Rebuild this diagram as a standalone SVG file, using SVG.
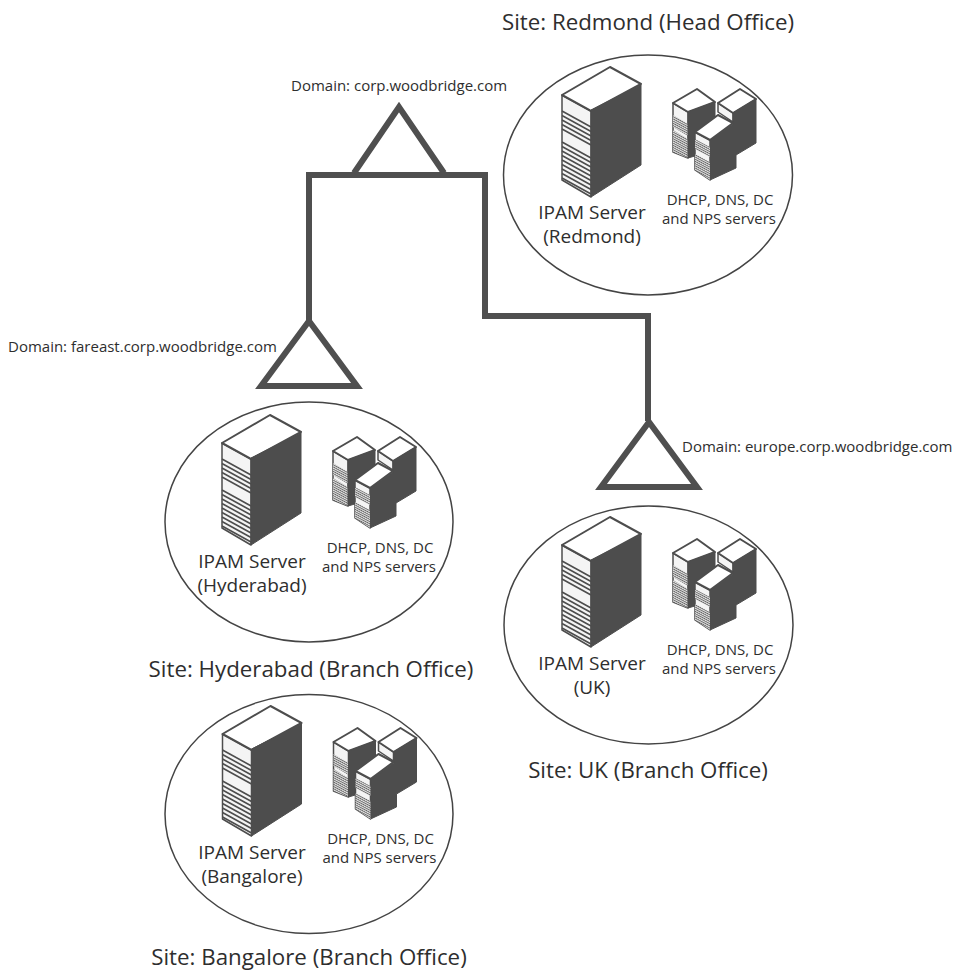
<svg xmlns="http://www.w3.org/2000/svg" xmlns:xlink="http://www.w3.org/1999/xlink" width="953" height="974" viewBox="0 0 953 974">
<style>
text{font-family:"Open Sans","Noto Sans","Liberation Sans",sans-serif;fill:#2e2e2e;text-anchor:middle}
.site{font-size:22.3px}.name{font-size:19px}.sm{font-size:15px}.dom{font-size:15px;text-anchor:start}
.oval{fill:#fff;stroke:#444;stroke-width:1.5}
.tri{fill:none;stroke:#4f4f4f;stroke-width:6;stroke-linejoin:miter}
.dark{fill:#4d4d4d;stroke:#4d4d4d;stroke-width:1;stroke-linejoin:round}
.top{fill:#fff;stroke:#4d4d4d;stroke-width:2;stroke-linejoin:round}
.front{fill:#f4f4f4;stroke:#4d4d4d;stroke-width:1.5;stroke-linejoin:round}
.ln{stroke:#4d4d4d;stroke-width:1.6;fill:none}
.h{fill:url(#hatch)}
</style>
<defs>
<pattern id="hatch" width="4" height="2.2" patternUnits="userSpaceOnUse" patternTransform="skewY(28)">
<rect width="4" height="2.2" fill="#e2e2e2"/>
<rect width="4" height="1" fill="#666"/>
</pattern>
<g id="cluster">
<path class="front" d="M62 95L91 111V197L62 180Z"/>
<path class="ln" d="M62 111L91 127M62 115.500L91 131.500M62 120L91 136M62 124.500L91 140.500M62 129L91 145M62 142L91 158M62 146.500L91 162.500M62 151L91 167M62 155.500L91 171.500M62 160L91 176M62 164.500L91 180.500M62 169L91 185M62 173.500L91 189.500M62 178L91 194"/>
<path class="top" d="M62 95L110 67L141 84L91 111Z"/>
<path class="dark" d="M91 110L141 85V165L91 197Z"/>
<path class="front" d="M173 103L188 112V158L173 152Z"/>
<path class="h" d="M173 115L188 124V136L173 127ZM173 130L188 139V158L173 152Z"/>
<path class="top" d="M173 103L197 89L215 102L188 112Z"/>
<path class="dark" d="M188 112L215 102V150L188 158Z"/>
<path class="front" d="M218 103L233 113V122L218 112Z"/>
<path class="top" d="M218 103L240 89L256 99L233 113Z"/>
<path class="dark" d="M233 113L256 99V143L236 155V168L210 180V140L233 124Z"/>
<path class="front" d="M195 132L210 140V180L195 170Z"/>
<path class="h" d="M195 139L210 147V157L195 149ZM195 154L210 162V180L195 170Z"/>
<path class="top" d="M195 132L218 115L233 123L210 140Z"/>
<text class="sm" x="220" y="205">DHCP, DNS, DC</text>
<text class="sm" x="219" y="224">and NPS servers</text>
</g>
</defs>
<g id="connectors">
<path fill="none" stroke="#4f4f4f" stroke-width="6" d="M309 320V175H485V316H648V421"/>
</g>
<g id="domain-corp">
<path class="tri" d="M354 173L399 107L444 173"/>
<text class="dom" x="291" y="91">Domain: corp.woodbridge.com</text>
</g>
<g id="domain-fareast">
<path class="tri" d="M261 386L309 321L357 386Z"/>
<text class="dom" x="8" y="352">Domain: fareast.corp.woodbridge.com</text>
</g>
<g id="domain-europe">
<path class="tri" d="M601 487L649 422L697 487Z"/>
<text class="dom" x="682" y="452">Domain: europe.corp.woodbridge.com</text>
</g>
<g id="site-redmond">
<text class="site" x="648" y="30">Site: Redmond (Head Office)</text>
<ellipse class="oval" cx="648" cy="175" rx="144.500" ry="120"/>
<use href="#cluster" x="500" y="0" xlink:href="#cluster"/>
<text class="name" x="592" y="219">IPAM Server</text>
<text class="name" x="592" y="243">(Redmond)</text>
</g>
<g id="site-hyderabad">
<ellipse class="oval" cx="309" cy="522" rx="144" ry="120"/>
<use href="#cluster" x="160" y="348" xlink:href="#cluster"/>
<text class="name" x="252" y="568">IPAM Server</text>
<text class="name" x="252" y="592">(Hyderabad)</text>
<text class="site" x="311" y="677">Site: Hyderabad (Branch Office)</text>
</g>
<g id="site-bangalore">
<ellipse class="oval" cx="309" cy="814" rx="144" ry="119.500"/>
<use href="#cluster" x="160.500" y="639" xlink:href="#cluster"/>
<text class="name" x="252" y="859">IPAM Server</text>
<text class="name" x="252" y="883">(Bangalore)</text>
<text class="site" x="309" y="965">Site: Bangalore (Branch Office)</text>
</g>
<g id="site-uk">
<ellipse class="oval" cx="648.500" cy="625" rx="144.500" ry="119"/>
<use href="#cluster" x="500" y="450" xlink:href="#cluster"/>
<text class="name" x="592" y="670">IPAM Server</text>
<text class="name" x="592" y="694">(UK)</text>
<text class="site" x="648" y="778">Site: UK (Branch Office)</text>
</g>
</svg>
